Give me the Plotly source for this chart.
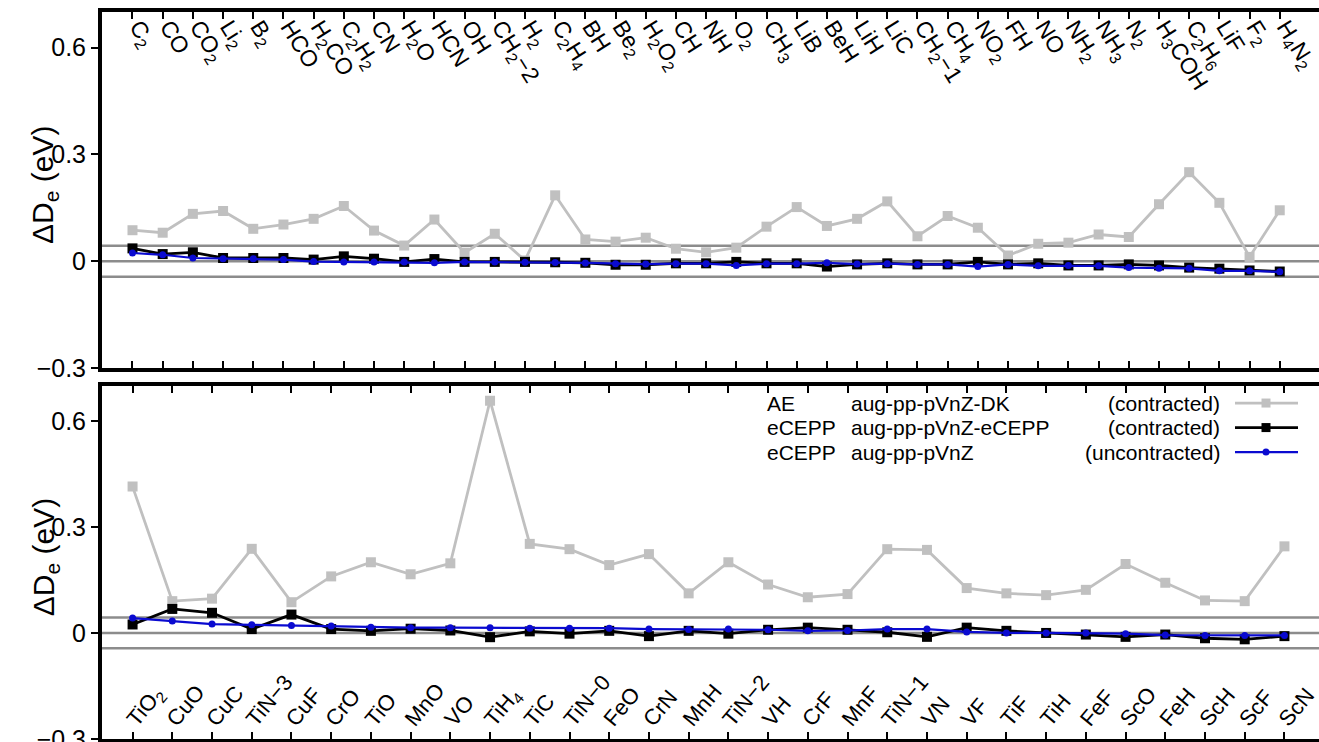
import plotly.graph_objects as go

# ---------------- data ----------------
cats_top = ["C2", "CO", "CO2", "Li2", "B2", "HCO", "H2CO", "C2H2", "CN", "H2O", "HCN", "OH",
            "CH2-2", "H2", "C2H4", "BH", "Be2", "H2O2", "CH", "NH", "O2", "CH3", "LiB", "BeH",
            "LiH", "LiC", "CH2-1", "CH4", "NO2", "FH", "NO", "NH2", "NH3", "N2", "H3COH",
            "C2H6", "LiF", "F2", "H4N2"]
labels_top = ["C<sub>2</sub>", "CO", "CO<sub>2</sub>", "Li<sub>2</sub>", "B<sub>2</sub>", "HCO",
              "H<sub>2</sub>CO", "C<sub>2</sub>H<sub>2</sub>", "CN", "H<sub>2</sub>O", "HCN", "OH",
              "CH<sub>2</sub>−2", "H<sub>2</sub>", "C<sub>2</sub>H<sub>4</sub>", "BH", "Be<sub>2</sub>",
              "H<sub>2</sub>O<sub>2</sub>", "CH", "NH", "O<sub>2</sub>", "CH<sub>3</sub>", "LiB", "BeH",
              "LiH", "LiC", "CH<sub>2</sub>−1", "CH<sub>4</sub>", "NO<sub>2</sub>", "FH", "NO",
              "NH<sub>2</sub>", "NH<sub>3</sub>", "N<sub>2</sub>", "H<sub>3</sub>COH",
              "C<sub>2</sub>H<sub>6</sub>", "LiF", "F<sub>2</sub>", "H<sub>4</sub>N<sub>2</sub>"]
ae_top = [0.087, 0.080, 0.133, 0.141, 0.091, 0.103, 0.119, 0.155, 0.086, 0.044,
          0.117, 0.024, 0.077, 0.002, 0.185, 0.061, 0.055, 0.066, 0.035, 0.025,
          0.038, 0.097, 0.152, 0.099, 0.119, 0.168, 0.070, 0.127, 0.094, 0.016,
          0.049, 0.052, 0.075, 0.068, 0.160, 0.250, 0.164, 0.012, 0.143]
ecepp_c_top = [0.036, 0.020, 0.025, 0.009, 0.009, 0.009, 0.0045, 0.0136, 0.007, -0.002,
               0.006, -0.002, -0.002, -0.002, -0.003, -0.0045, -0.010, -0.010, -0.006, -0.006,
               -0.002, -0.006, -0.006, -0.015, -0.009, -0.006, -0.009, -0.009, -0.002, -0.009,
               -0.006, -0.012, -0.012, -0.009, -0.012, -0.018, -0.021, -0.026, -0.029]
ecepp_u_top = [0.023, 0.018, 0.009, 0.007, 0.007, 0.0045, -0.001, -0.002, -0.002, -0.002,
               -0.0045, -0.002, -0.002, -0.003, -0.004, -0.005, -0.007, -0.008, -0.007, -0.007,
               -0.012, -0.007, -0.007, -0.0045, -0.008, -0.007, -0.009, -0.009, -0.015, -0.009,
               -0.013, -0.012, -0.013, -0.018, -0.020, -0.020, -0.027, -0.027, -0.030]

cats_bot = ["TiO2", "CuO", "CuC", "TiN-3", "CuF", "CrO", "TiO", "MnO", "VO", "TiH4", "TiC",
            "TiN-0", "FeO", "CrN", "MnH", "TiN-2", "VH", "CrF", "MnF", "TiN-1", "VN", "VF",
            "TiF", "TiH", "FeF", "ScO", "FeH", "ScH", "ScF", "ScN"]
labels_bot = ["TiO<sub>2</sub>", "CuO", "CuC", "TiN−3", "CuF", "CrO", "TiO", "MnO", "VO",
              "TiH<sub>4</sub>", "TiC", "TiN−0", "FeO", "CrN", "MnH", "TiN−2", "VH", "CrF", "MnF",
              "TiN−1", "VN", "VF", "TiF", "TiH", "FeF", "ScO", "FeH", "ScH", "ScF", "ScN"]
ae_bot = [0.414, 0.090, 0.097, 0.238, 0.087, 0.160, 0.200, 0.166, 0.197, 0.657,
          0.252, 0.237, 0.192, 0.223, 0.112, 0.200, 0.137, 0.101, 0.110, 0.237,
          0.235, 0.127, 0.112, 0.107, 0.122, 0.195, 0.142, 0.092, 0.090, 0.245]
ecepp_c_bot = [0.024, 0.068, 0.057, 0.011, 0.052, 0.011, 0.006, 0.012, 0.007, -0.012,
               0.0045, -0.002, 0.006, -0.009, 0.006, -0.002, 0.009, 0.015, 0.009, 0.002,
               -0.011, 0.015, 0.006, 0.0, -0.0045, -0.011, -0.0045, -0.015, -0.018, -0.009]
ecepp_u_bot = [0.042, 0.034, 0.025, 0.023, 0.021, 0.020, 0.016, 0.015, 0.015, 0.015,
               0.0136, 0.0136, 0.0136, 0.011, 0.010, 0.011, 0.009, 0.006, 0.007, 0.011,
               0.011, 0.003, 0.0, 0.0, 0.0, -0.002, -0.006, -0.007, -0.007, -0.007]

y_ticks = [-0.3, 0, 0.3, 0.6]
y_ticktext = ["−0.3", "0", "0.3", "0.6"]
chem_acc = 0.0434  # 1 kcal/mol in eV

series_names = ["AE aug-pp-pVnZ-DK (contracted)",
                "eCEPP aug-pp-pVnZ-eCEPP (contracted)",
                "eCEPP aug-pp-pVnZ (uncontracted)"]

# ---------------- styles ----------------
FONT = "Liberation Sans, Arial, Helvetica, sans-serif"
GRAY = "#c0c0c0"
BLACK = "#000000"
BLUE = "#0a0ad0"
REF = "#8c8c8c"

# figure is a little larger than the window so that the frame's right/bottom
# sides fall at the window edge, as in the reference
W, H = 1330, 753
ML, MR, MT, MB = 102, 0, 12, 4
PW, PH = 1319 - ML, 738 - MT     # intended plot area in window pixels


def px_x(p):
    return (p - ML) / PW


def px_y(p):
    return (MT + PH - p) / PH


fig = go.Figure()


def add_series(x, ys, xa, ya):
    gray, blk, blu = ys
    fig.add_trace(go.Scatter(x=x, y=gray, xaxis=xa, yaxis=ya, mode="lines+markers",
                             name=series_names[0], showlegend=False,
                             line=dict(color=GRAY, width=2.8),
                             marker=dict(symbol="square", size=10, color=GRAY)))
    fig.add_trace(go.Scatter(x=x, y=blk, xaxis=xa, yaxis=ya, mode="lines+markers",
                             name=series_names[1], showlegend=False,
                             line=dict(color=BLACK, width=2.8),
                             marker=dict(symbol="square", size=10, color=BLACK)))
    fig.add_trace(go.Scatter(x=x, y=blu, xaxis=xa, yaxis=ya, mode="lines+markers",
                             name=series_names[2], showlegend=False,
                             line=dict(color=BLUE, width=2.2),
                             marker=dict(symbol="circle", size=7, color=BLUE)))


add_series(cats_top, [ae_top, ecepp_c_top, ecepp_u_top], "x", "y")
add_series(cats_bot, [ae_bot, ecepp_c_bot, ecepp_u_bot], "x2", "y2")

# invisible carriers for the category-label axes
fig.add_trace(go.Scatter(x=cats_top, y=ae_top, xaxis="x3", yaxis="y", mode="markers",
                         marker=dict(opacity=0), showlegend=False, hoverinfo="skip"))
fig.add_trace(go.Scatter(x=cats_bot, y=ae_bot, xaxis="x4", yaxis="y2", mode="markers",
                         marker=dict(opacity=0), showlegend=False, hoverinfo="skip"))

# reference lines (0 and +-1 kcal/mol)
for yref, xref in (("y", "x domain"), ("y2", "x2 domain")):
    for v in (-chem_acc, 0.0, chem_acc):
        fig.add_shape(type="line", xref=xref, yref=yref, x0=0, x1=1, y0=v, y1=v,
                      line=dict(color=REF, width=2.5), layer="below")

axis_common = dict(showline=True, linewidth=4, linecolor="black", mirror="ticks",
                   showgrid=False, zeroline=False, tickwidth=2, tickcolor="black")

top_dom = [px_y(367.5), 1.0]
bot_dom = [0.0, px_y(385)]
xr_top = [-1.01, 39.3]
xr_bot = [-0.77, 29.87]

xcommon = dict(axis_common, ticks="inside", ticklen=7, type="category", showticklabels=False)
lblcommon = dict(type="category", showline=False, showgrid=False, zeroline=False, ticks="",
                 ticklabelposition="inside", ticklabeloverflow="allow", anchor="free")
ycommon = dict(axis_common, ticks="outside", ticklen=7, range=[-0.3, 0.7],
               tickvals=y_ticks, ticktext=y_ticktext,
               tickfont=dict(family=FONT, size=25, color="black"))

fig.update_layout(
    width=W, height=H, autosize=False,
    margin=dict(l=ML, r=MR, t=MT, b=MB),
    paper_bgcolor="white", plot_bgcolor="white",
    font=dict(family=FONT, color="black"),
    xaxis=dict(xcommon, anchor="y", side="top", range=xr_top,
               categoryorder="array", categoryarray=cats_top),
    yaxis=dict(ycommon, anchor="x", domain=top_dom),
    xaxis2=dict(xcommon, anchor="y2", side="bottom", range=xr_bot,
                categoryorder="array", categoryarray=cats_bot),
    yaxis2=dict(ycommon, anchor="x2", domain=bot_dom),
    xaxis3=dict(lblcommon, overlaying="x", side="top", position=top_dom[1], range=xr_top,
                categoryorder="array", categoryarray=cats_top, ticklabelshift=6,
                tickfont=dict(family=FONT, size=23, color="black"),
                tickvals=cats_top, ticktext=labels_top, tickangle=58),
    xaxis4=dict(lblcommon, overlaying="x2", side="bottom", position=bot_dom[0], range=xr_bot,
                categoryorder="array", categoryarray=cats_bot, ticklabelshift=-4,
                tickfont=dict(family=FONT, size=22, color="black"),
                tickvals=cats_bot, ticktext=labels_bot, tickangle=-50),
)

# y axis titles
for ymid in ((189.75 - 5), (561.5 - 5)):
    fig.add_annotation(text="ΔD<sub>e</sub> (eV)", xref="paper", yref="paper",
                       x=px_x(45), y=px_y(ymid), xanchor="center", yanchor="middle",
                       textangle=-90, showarrow=False,
                       font=dict(family=FONT, size=30, color="black"))

# legend (text columns + line samples), placed in the lower panel
leg_rows = [("AE", "aug-pp-pVnZ-DK", "(contracted)", GRAY, "square"),
            ("eCEPP", "aug-pp-pVnZ-eCEPP", "(contracted)", BLACK, "square"),
            ("eCEPP", "aug-pp-pVnZ", "(uncontracted)", BLUE, "circle")]
for i, (c1, c2, c3, col, sym) in enumerate(leg_rows):
    yc = 402.5 + 24.5 * i
    yp = px_y(yc)
    fs = dict(family=FONT, size=21, color="black")
    fig.add_annotation(text=c1, xref="paper", yref="paper", x=px_x(766), y=yp,
                       xanchor="left", yanchor="middle", showarrow=False, font=fs, borderpad=0)
    fig.add_annotation(text=c2, xref="paper", yref="paper", x=px_x(850), y=yp,
                       xanchor="left", yanchor="middle", showarrow=False, font=fs, borderpad=0)
    fig.add_annotation(text=c3, xref="paper", yref="paper", x=px_x(1221), y=yp,
                       xanchor="right", yanchor="middle", showarrow=False, font=fs, borderpad=0)
    fig.add_shape(type="line", xref="paper", yref="paper", x0=px_x(1235), x1=px_x(1298),
                  y0=yp, y1=yp, line=dict(color=col, width=2.8 if col != BLUE else 2.2))
    hs = 4.5 if sym == "square" else 3.5
    fig.add_shape(type="rect" if sym == "square" else "circle", xref="paper", yref="paper",
                  x0=px_x(1266 - hs), x1=px_x(1266 + hs), y0=px_y(yc + hs), y1=px_y(yc - hs),
                  fillcolor=col, line=dict(color=col, width=0))

page_fix = (
    "document.documentElement.style.margin='0';"
    "document.documentElement.style.overflow='hidden';"
    "document.body.style.margin='0';"
    "document.body.style.overflow='hidden';"
)

fig.write_html("out.html",
               config={"displayModeBar": False, "responsive": False},
               post_script=page_fix)
